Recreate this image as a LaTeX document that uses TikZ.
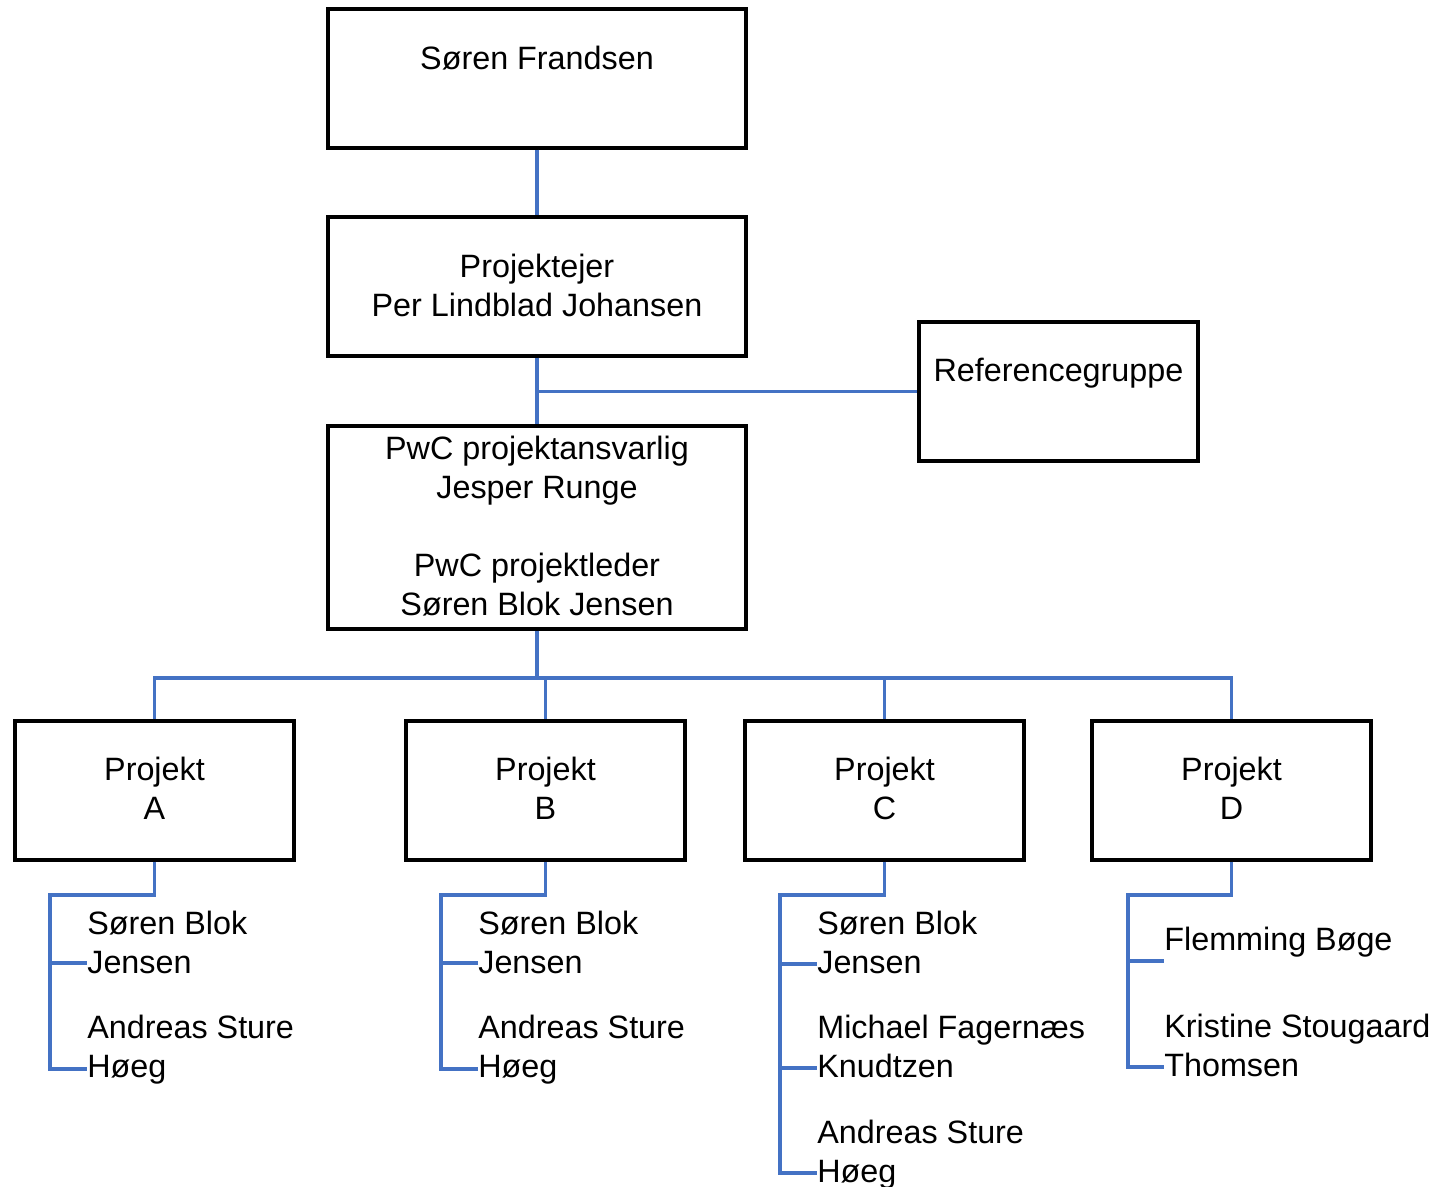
\documentclass[tikz,border=0pt]{standalone}
\usepackage{fontspec}
\setmainfont{Liberation Sans}
\usepackage{tikz}
\usetikzlibrary{arrows.meta, positioning}
\usepackage{xcolor}
\definecolor{linkblue}{HTML}{4472C4}

\begin{document}
\begin{tikzpicture}[x = 0.02cm, y = -0.02cm,
		box/.style = {draw, line width = 1.9pt, inner sep = 0, minimum width = 5.58cm, minimum height = 2.78cm},
		widebox/.style = {box, minimum width = 8.36cm},
		conn/.style = {draw = linkblue, line width = 1.8pt},
		lbl/.style = {font = \fontsize{18.4}{22.1}\selectfont, align = center, anchor = base, inner sep = 0},
		member/.style = {lbl, align = left, anchor = base west}]
		\useasboundingbox (0,0) rectangle (1438,1187);
		\node[widebox] (top) at (537,78.5) {};
		\node[lbl] (toptext) at (537,69) {Søren Frandsen};
		\node[widebox] (owner) at (537,286.5) {};
		\node[lbl] (ownertext) at (537,316) {Projektejer\\Per Lindblad Johansen};
		\node[box] (ref) at (1058.5,391.5) {};
		\node[lbl] (reftext) at (1058.5,381) {Referencegruppe};
		\node[widebox, minimum height = 4.06cm] (pwc) at (537,527.5) {};
		\node[lbl] (pwctext) at (537,615) {PwC projektansvarlig\\Jesper Runge\\[22.1pt]PwC projektleder\\Søren Blok Jensen};
		\foreach \n/\l/\x in {pA/A/154.5, pB/B/545.5, pC/C/884.5, pD/D/1231.5} {
			\node[box] (\n) at (\x,790.5) {};
			\node[lbl] (\n text) at (\x,819) {Projekt\\\l};
		}
		\coordinate (bus) at (537,678);
		\draw[conn] (top.south) -- (owner.north);
		\draw[conn] (owner.south) -- (pwc.north);
		\draw[conn] (owner.south |- ref.west) -- (ref.west);
		\draw[conn] (pwc.south) -- (bus);
		\foreach \n in {pA, pB, pC, pD}
			\draw[conn] (bus) -| (\n.north);

		\coordinate (tA) at (50,895);
		\coordinate (a1) at (87,963);
		\coordinate (a2) at (87,1069);
		\node[member] (a1text) at (87,973) {Søren Blok\\Jensen};
		\node[member] (a2text) at (87,1077) {Andreas Sture\\Høeg};
		\draw[conn] (pA.south) |- (tA) -- (tA |- a2) -- (a2);
		\draw[conn] (tA |- a1) -- (a1);

		\coordinate (tB) at (441,895);
		\coordinate (b1) at (478,963);
		\coordinate (b2) at (478,1069);
		\node[member] (b1text) at (478,973) {Søren Blok\\Jensen};
		\node[member] (b2text) at (478,1077) {Andreas Sture\\Høeg};
		\draw[conn] (pB.south) |- (tB) -- (tB |- b2) -- (b2);
		\draw[conn] (tB |- b1) -- (b1);

		\coordinate (tC) at (780,895);
		\coordinate (c1) at (817,964);
		\coordinate (c2) at (817,1068);
		\coordinate (c3) at (817,1173);
		\node[member] (c1text) at (817,973) {Søren Blok\\Jensen};
		\node[member] (c2text) at (817,1077) {Michael Fagernæs\\Knudtzen};
		\node[member] (c3text) at (817,1182) {Andreas Sture\\Høeg};
		\draw[conn] (pC.south) |- (tC) -- (tC |- c3) -- (c3);
		\draw[conn] (tC |- c1) -- (c1);
		\draw[conn] (tC |- c2) -- (c2);

		\coordinate (tD) at (1128,895);
		\coordinate (d1) at (1164,961);
		\coordinate (d2) at (1164,1067);
		\node[member] (d1text) at (1164,950) {Flemming Bøge};
		\node[member] (d2text) at (1164,1076) {Kristine Stougaard\\Thomsen};
		\draw[conn] (pD.south) |- (tD) -- (tD |- d2) -- (d2);
		\draw[conn] (tD |- d1) -- (d1);
	\end{tikzpicture}
\end{document}
